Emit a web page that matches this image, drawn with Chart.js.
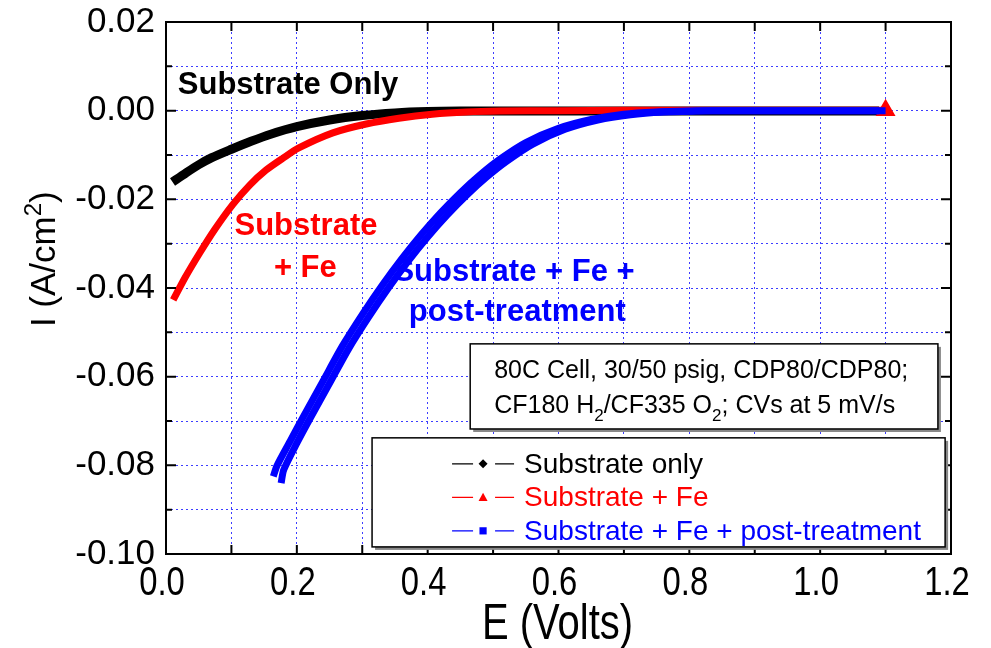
<!DOCTYPE html>
<html><head><meta charset="utf-8">
<script src="https://cdn.jsdelivr.net/npm/chart.js@4.4.1/dist/chart.umd.min.js"></script>
<style>html,body{margin:0;padding:0;background:#fff;} canvas{display:block;}</style>
</head><body><canvas id="c" width="991" height="648"></canvas>
<script>
// ---- data ----
const substrateOnlyE = [0.01,0.03,0.05,0.07,0.10,0.13,0.16,0.20,0.25,0.30,0.35,0.40,0.45,0.50,0.60,0.70,0.80,0.90,1.00,1.09];
const substrateOnlyI = [-0.0161,-0.0141,-0.0122,-0.0106,-0.0087,-0.0069,-0.0053,-0.0036,-0.0021,-0.0011,-0.0005,-0.0002,-0.0001,-0.0001,-0.0001,-0.0001,-0.0001,-0.0001,-0.0001,-0.0001];

const substrateFeE = [0.011,0.029,0.052,0.075,0.102,0.128,0.153,0.179,0.203,0.255,0.306,0.356,0.407,0.459,0.511,0.60,0.70,0.80,0.90,1.00,1.10];
const substrateFeI = [-0.0427,-0.0377,-0.0320,-0.0267,-0.0212,-0.0168,-0.0134,-0.0107,-0.0084,-0.0050,-0.0030,-0.0017,-0.0008,-0.0003,-0.0001,0.0000,0.0001,0.0001,0.0001,0.0001,0.0001];

// post-treatment: forward and reverse scans
const postTreatScanAE = [0.164,0.17,0.19,0.21,0.24,0.27,0.30,0.33,0.36,0.39,0.42,0.45,0.48,0.51,0.55,0.60,0.65,0.70,0.75,0.80,0.85,0.95,1.09];
const postTreatScanAI = [-0.0825,-0.0800,-0.0745,-0.0690,-0.0610,-0.0530,-0.0460,-0.0395,-0.0335,-0.0280,-0.0230,-0.0185,-0.0145,-0.0110,-0.0072,-0.0040,-0.0020,-0.0008,-0.0003,-0.0001,0,0,0];
const postTreatScanBE = [0.176,0.18,0.20,0.22,0.25,0.28,0.31,0.34,0.37,0.40,0.43,0.46,0.49,0.52,0.56,0.61,0.66,0.71,0.76,0.81,0.86,0.95,1.10];
const postTreatScanBI = [-0.0840,-0.0810,-0.0750,-0.0695,-0.0615,-0.0535,-0.0465,-0.0400,-0.0340,-0.0285,-0.0235,-0.0190,-0.0150,-0.0115,-0.0076,-0.0042,-0.0021,-0.0009,-0.0003,-0.0001,0,0,0];

const seriesLabels = ['Substrate only','Substrate + Fe','Substrate + Fe + post-treatment'];
const seriesColors = ['#000000','#ff0000','#0000ff'];
const seriesMarkers = ['diamond','triangle','square'];

const xMin = 0, xMax = 1.2, xStep = 0.1;
const yMin = -0.10, yMax = 0.02, yStep = 0.01;
const xTitle = 'E (Volts)';

const noteLine1 = '80C Cell, 30/50 psig, CDP80/CDP80;';
const noteLine2 = [['CF180 H',0],['2',1],['/CF335 O',0],['2',1],['; CVs at 5 mV/s',0]];

// ---- build ----
const pts = (xs, ys) => xs.map((v,i)=>({x:v,y:ys[i]}));

const ds = [
  {label:seriesLabels[2], data:pts(postTreatScanAE,postTreatScanAI), borderColor:seriesColors[2], borderWidth:7, order:1},
  {label:seriesLabels[2]+' (reverse)', data:pts(postTreatScanBE,postTreatScanBI), borderColor:seriesColors[2], borderWidth:7, order:1},
  {label:seriesLabels[1], data:pts(substrateFeE,substrateFeI), borderColor:seriesColors[1], borderWidth:7, order:2,
    pointStyle:'triangle', pointBackgroundColor:seriesColors[1], pointBorderColor:seriesColors[1],
    pointRadius: c => c.dataIndex === substrateFeE.length-1 ? 4.5 : 0},
  {label:seriesLabels[0], data:pts(substrateOnlyE,substrateOnlyI), borderColor:seriesColors[0], borderWidth:9, order:3},
];
ds.forEach(d=>{ d.showLine=true; d.fill=false; d.tension=0.25; d.borderCapStyle='butt'; if(d.pointRadius===undefined) d.pointRadius=0; });

function drawMarker(ctx, style, x, y, r, color){
  ctx.fillStyle=color; ctx.beginPath();
  if(style==='diamond'){ ctx.moveTo(x,y-r); ctx.lineTo(x+r,y); ctx.lineTo(x,y+r); ctx.lineTo(x-r,y); }
  else if(style==='triangle'){ ctx.moveTo(x,y-r); ctx.lineTo(x+r,y+r*0.8); ctx.lineTo(x-r,y+r*0.8); }
  else { ctx.rect(x-r*0.8,y-r*0.8,r*1.6,r*1.6); }
  ctx.closePath(); ctx.fill();
}

const SANS = '"Liberation Sans", Arial, sans-serif';

const decor = {
  id:'decor',
  beforeDraw(chart){ const c=chart.ctx; c.save(); c.fillStyle='#fff'; c.fillRect(0,0,chart.width,chart.height); c.restore(); },
  afterDatasetsDraw(chart){
    const {ctx, chartArea:a, scales:{x,y}} = chart;
    ctx.save();
    // frame
    ctx.strokeStyle='#000'; ctx.lineWidth=2;
    ctx.strokeRect(a.left,a.top,a.right-a.left,a.bottom-a.top);
    // inward ticks
    x.ticks.forEach(t=>{ const px=x.getPixelForValue(t.value); const L=9;
      ctx.beginPath(); ctx.moveTo(px,a.bottom); ctx.lineTo(px,a.bottom-L); ctx.moveTo(px,a.top); ctx.lineTo(px,a.top+L); ctx.stroke(); });
    y.ticks.forEach(t=>{ const py=y.getPixelForValue(t.value); const major=Math.round(t.value*100)%2===0; const L=major?10:6;
      ctx.beginPath(); ctx.moveTo(a.left,py); ctx.lineTo(a.left+L,py); ctx.moveTo(a.right,py); ctx.lineTo(a.right-L,py); ctx.stroke(); });

    // x tick labels (condensed, like the reference)
    ctx.fillStyle='#000'; ctx.textAlign='center'; ctx.textBaseline='top';
    ctx.font='41px '+SANS;
    x.ticks.forEach(t=>{
      if(Math.round(t.value*10)%2!==0) return;
      const px=x.getPixelForValue(t.value);
      ctx.save(); ctx.translate(px-4, a.bottom+9); ctx.scale(0.8,1);
      ctx.fillText(Number(t.value).toFixed(1), 0, 0); ctx.restore();
    });
    // x title
    ctx.save(); ctx.translate((a.left+a.right)/2-1, chart.height-23); ctx.scale(0.8,1);
    ctx.font='50px '+SANS; ctx.textBaseline='middle'; ctx.fillText(xTitle,0,0); ctx.restore();

    // curve labels
    ctx.font='bold 31px '+SANS;
    ctx.textBaseline='middle';
    ctx.fillStyle=seriesColors[0]; ctx.textAlign='left';
    ctx.fillText('Substrate Only', x.getPixelForValue(0.018), y.getPixelForValue(0.0056));
    ctx.fillStyle=seriesColors[1]; ctx.textAlign='center';
    ctx.fillText('Substrate', x.getPixelForValue(0.214), y.getPixelForValue(-0.0262));
    ctx.fillText('+ Fe', x.getPixelForValue(0.213), y.getPixelForValue(-0.0355));
    ctx.fillStyle=seriesColors[2];
    ctx.fillText('Substrate + Fe +', x.getPixelForValue(0.532), y.getPixelForValue(-0.0364));
    ctx.fillText('post-treatment', x.getPixelForValue(0.537), y.getPixelForValue(-0.0456));

    // note box
    const nb = {l:x.getPixelForValue(0.465), r:x.getPixelForValue(1.180), t:y.getPixelForValue(-0.0526), b:y.getPixelForValue(-0.0718)};
    ctx.fillStyle='#888'; ctx.fillRect(nb.l+3,nb.t+3,nb.r-nb.l,nb.b-nb.t);
    ctx.fillStyle='#fff'; ctx.fillRect(nb.l,nb.t,nb.r-nb.l,nb.b-nb.t);
    ctx.strokeStyle='#000'; ctx.lineWidth=1.5; ctx.strokeRect(nb.l,nb.t,nb.r-nb.l,nb.b-nb.t);
    ctx.fillStyle='#000'; ctx.textAlign='left'; ctx.textBaseline='middle';
    ctx.font='25px '+SANS;
    ctx.fillText(noteLine1, nb.l+24, nb.t+27);
    let cx = nb.l+24; const ly = nb.t+62;
    noteLine2.forEach(([s,sub])=>{
      ctx.font = (sub ? '17px ' : '25px ') + SANS;
      ctx.fillText(s, cx, sub ? ly+10 : ly);
      cx += ctx.measureText(s).width;
    });

    // legend box
    const lb = {l:x.getPixelForValue(0.315), r:x.getPixelForValue(1.191), t:y.getPixelForValue(-0.0738), b:y.getPixelForValue(-0.0984)};
    ctx.fillStyle='#888'; ctx.fillRect(lb.l+3,lb.t+3,lb.r-lb.l,lb.b-lb.t);
    ctx.fillStyle='#fff'; ctx.fillRect(lb.l,lb.t,lb.r-lb.l,lb.b-lb.t);
    ctx.strokeStyle='#000'; ctx.lineWidth=1.5; ctx.strokeRect(lb.l,lb.t,lb.r-lb.l,lb.b-lb.t);
    ctx.font='28px '+SANS;
    seriesLabels.forEach((lab,i)=>{
      const ry = lb.t + 26 + i*33.5;
      const col = seriesColors[i];
      ctx.strokeStyle=col; ctx.lineWidth=1.2;
      ctx.beginPath(); ctx.moveTo(lb.l+80,ry); ctx.lineTo(lb.l+101,ry); ctx.moveTo(lb.l+123,ry); ctx.lineTo(lb.l+142,ry); ctx.stroke();
      drawMarker(ctx, seriesMarkers[i], lb.l+111, ry, 4.5, col);
      ctx.fillStyle=col; ctx.textAlign='left'; ctx.textBaseline='middle';
      ctx.fillText(lab, lb.l+152, ry+1);
    });

    // y axis title with superscript
    ctx.save();
    ctx.translate(45, y.getPixelForValue(-0.0335));
    ctx.rotate(-Math.PI/2);
    ctx.fillStyle='#000'; ctx.textBaseline='middle'; ctx.textAlign='left';
    const f1='35px '+SANS, f2='24px '+SANS;
    ctx.font=f1; const w1=ctx.measureText('I (A/cm').width, w3=ctx.measureText(')').width;
    ctx.font=f2; const w2=ctx.measureText('2').width;
    let sx = -(w1+w2+w3)/2;
    ctx.font=f1; ctx.fillText('I (A/cm', sx, 0); sx+=w1;
    ctx.font=f2; ctx.fillText('2', sx, -11); sx+=w2;
    ctx.font=f1; ctx.fillText(')', sx, 0);
    ctx.restore();

    ctx.restore();
  }
};

new Chart(document.getElementById('c'), {
  type:'scatter',
  data:{datasets:ds},
  options:{
    responsive:false, animation:false,
    layout:{padding:{top:22,right:40,left:0,bottom:0}},
    plugins:{legend:{display:false}, tooltip:{enabled:false}},
    scales:{
      x:{type:'linear', min:xMin, max:xMax,
        afterFit:s=>{s.height=94; s.paddingLeft=0; s.paddingRight=0;},
        ticks:{stepSize:xStep, autoSkip:false, display:false},
        grid:{color:'#3d3dff', lineWidth:1, drawTicks:false},
        border:{display:false, dash:[2,3]}
      },
      y:{type:'linear', min:yMin, max:yMax,
        afterFit:s=>{s.width=166; s.paddingTop=0; s.paddingBottom=0;},
        ticks:{stepSize:yStep, autoSkip:false, padding:11, color:'#000',
          font:{family:SANS, size:35},
          callback:v=> (Math.round(v*100)%2===0) ? Number(v).toFixed(2) : ''},
        grid:{color:'#3d3dff', lineWidth:1, drawTicks:false},
        border:{display:false, dash:[2,3]}
      }
    }
  },
  plugins:[decor]
});
</script>
</body></html>
